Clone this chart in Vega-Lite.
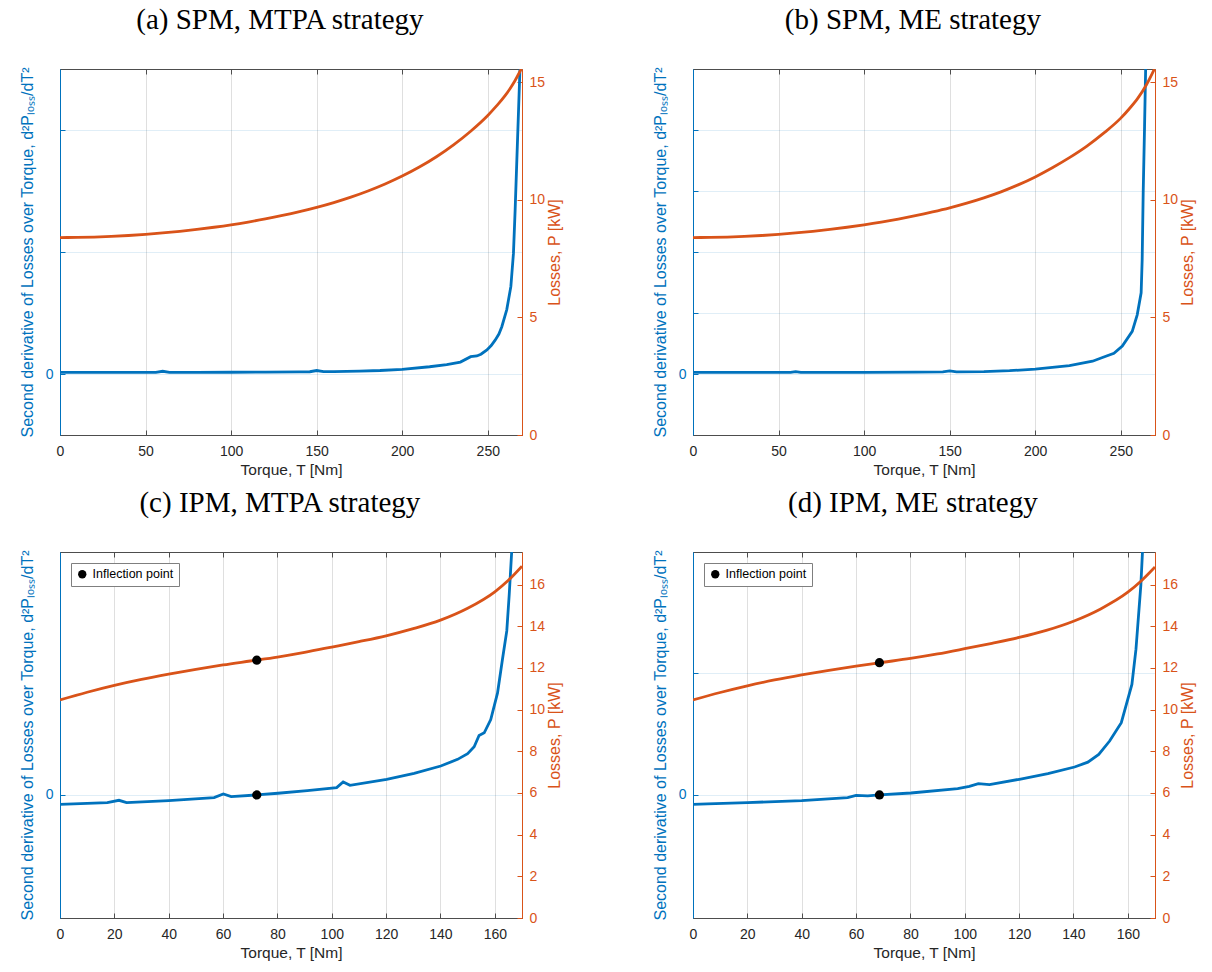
{
  "$schema": "https://vega.github.io/schema/vega-lite/v6.json",
  "padding": {"left": 18, "top": 5, "right": 5, "bottom": 5},
  "background": "white",
  "datasets": {
    "a_d2": [
      {"T": 0, "v": 0.016}, {"T": 20, "v": 0.016}, {"T": 40, "v": 0.016}, {"T": 56, "v": 0.016},
      {"T": 60, "v": 0.025}, {"T": 64, "v": 0.016}, {"T": 80, "v": 0.016}, {"T": 100, "v": 0.017},
      {"T": 120, "v": 0.018}, {"T": 140, "v": 0.02}, {"T": 146, "v": 0.021}, {"T": 150, "v": 0.031},
      {"T": 154, "v": 0.022}, {"T": 160, "v": 0.022}, {"T": 175, "v": 0.026}, {"T": 187, "v": 0.031},
      {"T": 200, "v": 0.041}, {"T": 216, "v": 0.062}, {"T": 226, "v": 0.08}, {"T": 234, "v": 0.1},
      {"T": 240, "v": 0.144}, {"T": 243.6, "v": 0.15}, {"T": 246, "v": 0.165}, {"T": 249.5, "v": 0.2},
      {"T": 252, "v": 0.235}, {"T": 254.3, "v": 0.28}, {"T": 256.5, "v": 0.33}, {"T": 258.2, "v": 0.39},
      {"T": 261.1, "v": 0.53}, {"T": 263.5, "v": 0.72}, {"T": 265, "v": 0.99}, {"T": 266, "v": 1.35},
      {"T": 267, "v": 1.76}, {"T": 268, "v": 2.17}, {"T": 269, "v": 2.58}
    ],
    "a_P": [
      {"T": 0, "P": 8.4}, {"T": 10, "P": 8.405}, {"T": 20, "P": 8.421}, {"T": 30, "P": 8.448},
      {"T": 40, "P": 8.486}, {"T": 50, "P": 8.535}, {"T": 60, "P": 8.595}, {"T": 70, "P": 8.665},
      {"T": 80, "P": 8.746}, {"T": 90, "P": 8.838}, {"T": 100, "P": 8.941}, {"T": 110, "P": 9.059},
      {"T": 120, "P": 9.191}, {"T": 130, "P": 9.338}, {"T": 140, "P": 9.501}, {"T": 150, "P": 9.681},
      {"T": 160, "P": 9.886}, {"T": 170, "P": 10.118}, {"T": 180, "P": 10.38}, {"T": 190, "P": 10.677},
      {"T": 200, "P": 11.014}, {"T": 210, "P": 11.399}, {"T": 220, "P": 11.839}, {"T": 230, "P": 12.344},
      {"T": 240, "P": 12.924}, {"T": 250, "P": 13.594}, {"T": 255, "P": 13.99}, {"T": 260, "P": 14.424},
      {"T": 265, "P": 14.96}, {"T": 270, "P": 15.64}
    ],
    "b_d2": [
      {"T": 0, "v": 0.026}, {"T": 20, "v": 0.026}, {"T": 40, "v": 0.026}, {"T": 57, "v": 0.026},
      {"T": 60, "v": 0.04}, {"T": 63, "v": 0.026}, {"T": 100, "v": 0.028}, {"T": 130, "v": 0.032},
      {"T": 146, "v": 0.034}, {"T": 150, "v": 0.05}, {"T": 154, "v": 0.036}, {"T": 170, "v": 0.04},
      {"T": 185, "v": 0.054}, {"T": 200, "v": 0.08}, {"T": 220, "v": 0.136}, {"T": 233.5, "v": 0.21},
      {"T": 239.3, "v": 0.27}, {"T": 246, "v": 0.34}, {"T": 250.9, "v": 0.46}, {"T": 256.7, "v": 0.7},
      {"T": 259.6, "v": 0.97}, {"T": 261.9, "v": 1.33}, {"T": 262.5, "v": 1.87}, {"T": 263.1, "v": 2.97},
      {"T": 263.9, "v": 4.06}, {"T": 264.6, "v": 5.1}
    ],
    "b_P": [
      {"T": 0, "P": 8.4}, {"T": 10, "P": 8.405}, {"T": 20, "P": 8.421}, {"T": 30, "P": 8.448},
      {"T": 40, "P": 8.486}, {"T": 50, "P": 8.535}, {"T": 60, "P": 8.595}, {"T": 70, "P": 8.665},
      {"T": 80, "P": 8.746}, {"T": 90, "P": 8.838}, {"T": 100, "P": 8.94}, {"T": 110, "P": 9.055},
      {"T": 120, "P": 9.185}, {"T": 130, "P": 9.33}, {"T": 140, "P": 9.49}, {"T": 150, "P": 9.665},
      {"T": 160, "P": 9.865}, {"T": 170, "P": 10.09}, {"T": 180, "P": 10.345}, {"T": 190, "P": 10.64},
      {"T": 200, "P": 10.98}, {"T": 210, "P": 11.37}, {"T": 220, "P": 11.8}, {"T": 230, "P": 12.28},
      {"T": 240, "P": 12.84}, {"T": 250, "P": 13.48}, {"T": 255, "P": 13.88}, {"T": 260, "P": 14.33},
      {"T": 265, "P": 14.9}, {"T": 270, "P": 15.62}
    ],
    "c_d2": [
      {"T": 0, "v": -0.077}, {"T": 10, "v": -0.07}, {"T": 17.4, "v": -0.063}, {"T": 21.7, "v": -0.044},
      {"T": 24.5, "v": -0.063}, {"T": 40, "v": -0.047}, {"T": 56.7, "v": -0.022}, {"T": 60.1, "v": 0.008},
      {"T": 63, "v": -0.014}, {"T": 72.4, "v": 0}, {"T": 80.2, "v": 0.014}, {"T": 91, "v": 0.036},
      {"T": 101.8, "v": 0.06}, {"T": 104.2, "v": 0.107}, {"T": 106.7, "v": 0.079}, {"T": 120.2, "v": 0.129},
      {"T": 130.3, "v": 0.178}, {"T": 140.1, "v": 0.238}, {"T": 146.3, "v": 0.293}, {"T": 150, "v": 0.34},
      {"T": 152.4, "v": 0.397}, {"T": 154.2, "v": 0.49}, {"T": 156.1, "v": 0.512}, {"T": 158.5, "v": 0.62},
      {"T": 161, "v": 0.84}, {"T": 162.8, "v": 1.115}, {"T": 164.4, "v": 1.35}, {"T": 165.3, "v": 1.65},
      {"T": 166.2, "v": 2.0}, {"T": 166.6, "v": 2.15}
    ],
    "c_P": [
      {"T": 0, "P": 10.46}, {"T": 10, "P": 10.83}, {"T": 20, "P": 11.16}, {"T": 30, "P": 11.445},
      {"T": 40, "P": 11.695}, {"T": 50, "P": 11.925}, {"T": 60, "P": 12.14}, {"T": 70, "P": 12.33},
      {"T": 80, "P": 12.52}, {"T": 90, "P": 12.745}, {"T": 100, "P": 13.0}, {"T": 110, "P": 13.26},
      {"T": 120, "P": 13.54}, {"T": 130, "P": 13.88}, {"T": 140, "P": 14.29}, {"T": 150, "P": 14.86},
      {"T": 160, "P": 15.65}, {"T": 165, "P": 16.2}, {"T": 170, "P": 16.88}
    ],
    "c_pt": [{"T": 72.4, "v": 0, "P": 12.37, "label": "Inflection point"}],
    "d_d2": [
      {"T": 0, "v": -0.077}, {"T": 5.3, "v": -0.074}, {"T": 20, "v": -0.063}, {"T": 40, "v": -0.047},
      {"T": 56.9, "v": -0.022}, {"T": 60, "v": -0.003}, {"T": 64.3, "v": -0.008}, {"T": 68.6, "v": 0},
      {"T": 80.2, "v": 0.016}, {"T": 97.4, "v": 0.052}, {"T": 101.7, "v": 0.071}, {"T": 105, "v": 0.093},
      {"T": 109.1, "v": 0.085}, {"T": 120.1, "v": 0.129}, {"T": 130.6, "v": 0.175}, {"T": 140.4, "v": 0.23},
      {"T": 145.3, "v": 0.27}, {"T": 149.3, "v": 0.334}, {"T": 153.3, "v": 0.444}, {"T": 157.6, "v": 0.595},
      {"T": 161.5, "v": 0.91}, {"T": 163, "v": 1.2}, {"T": 164.8, "v": 1.73}, {"T": 165.5, "v": 2.05}
    ],
    "d_P": [
      {"T": 0, "P": 10.46}, {"T": 10, "P": 10.82}, {"T": 20, "P": 11.14}, {"T": 30, "P": 11.42},
      {"T": 40, "P": 11.665}, {"T": 50, "P": 11.885}, {"T": 60, "P": 12.085}, {"T": 70, "P": 12.27},
      {"T": 80, "P": 12.455}, {"T": 90, "P": 12.67}, {"T": 100, "P": 12.92}, {"T": 110, "P": 13.18},
      {"T": 120, "P": 13.46}, {"T": 130, "P": 13.8}, {"T": 140, "P": 14.24}, {"T": 150, "P": 14.83},
      {"T": 160, "P": 15.63}, {"T": 165, "P": 16.18}, {"T": 170, "P": 16.84}
    ],
    "d_pt": [{"T": 68.6, "v": 0, "P": 12.25, "label": "Inflection point"}]
  },
  "columns": 2,
  "spacing": {"row": 10, "column": 87},
  "resolve": {"scale": {"color": "independent"}},
  "concat": [
    {
      "title": {"text": "(a) SPM, MTPA strategy"},
      "width": 462, "height": 366,
      "resolve": {"scale": {"y": "independent"}, "axis": {"x": "independent"}},
      "layer": [
        {
          "data": {"name": "a_d2"},
          "mark": {"type": "line", "color": "#0072BD", "strokeWidth": 2.8, "clip": true},
          "encoding": {
            "x": {"field": "T", "type": "quantitative", "scale": {"domain": [0, 270], "nice": false},
                  "axis": {"orient": "bottom", "values": [0, 50, 100, 150, 200, 250], "title": "Torque, T [Nm]"}},
            "y": {"field": "v", "type": "quantitative", "scale": {"domain": [-0.497, 2.5], "nice": false, "zero": false},
                  "axis": {"orient": "left", "values": [0, 1, 2], "labelExpr": "datum.value === 0 ? '0' : ''",
                           "title": "Second derivative of Losses over Torque, d²Pₗₒₛₛ/dT²", "domainColor": "#0072BD",
                           "tickColor": "#0072BD", "labelColor": "#0072BD", "titleColor": "#0072BD",
                           "grid": true, "gridColor": "#0072BD", "gridOpacity": 0.12}}
          }
        },
        {
          "data": {"name": "a_P"},
          "mark": {"type": "line", "color": "#D95319", "strokeWidth": 2.8, "clip": true, "interpolate": "monotone"},
          "encoding": {
            "x": {"field": "T", "type": "quantitative", "scale": {"domain": [0, 270], "nice": false},
                  "axis": {"orient": "top", "values": [0, 50, 100, 150, 200, 250], "labels": false, "title": null, "grid": false, "domain": false}},
            "y": {"field": "P", "type": "quantitative", "scale": {"domain": [0, 15.57], "nice": false},
                  "axis": {"orient": "right", "values": [0, 5, 10, 15], "title": "Losses, P [kW]", "domainColor": "#D95319",
                           "tickColor": "#D95319", "labelColor": "#D95319", "titleColor": "#D95319", "grid": false,
                           "titleAngle": 270, "titleBaseline": "top"}}
          }
        }
      ]
    },
    {
      "title": {"text": "(b) SPM, ME strategy"},
      "width": 462, "height": 366,
      "resolve": {"scale": {"y": "independent"}, "axis": {"x": "independent"}},
      "layer": [
        {
          "data": {"name": "b_d2"},
          "mark": {"type": "line", "color": "#0072BD", "strokeWidth": 2.8, "clip": true},
          "encoding": {
            "x": {"field": "T", "type": "quantitative", "scale": {"domain": [0, 270], "nice": false},
                  "axis": {"orient": "bottom", "values": [0, 50, 100, 150, 200, 250], "title": "Torque, T [Nm]"}},
            "y": {"field": "v", "type": "quantitative", "scale": {"domain": [-1, 5], "nice": false, "zero": false},
                  "axis": {"orient": "left", "values": [0, 1, 2, 3, 4], "labelExpr": "datum.value === 0 ? '0' : ''",
                           "title": "Second derivative of Losses over Torque, d²Pₗₒₛₛ/dT²", "domainColor": "#0072BD",
                           "tickColor": "#0072BD", "labelColor": "#0072BD", "titleColor": "#0072BD",
                           "grid": true, "gridColor": "#0072BD", "gridOpacity": 0.12}}
          }
        },
        {
          "data": {"name": "b_P"},
          "mark": {"type": "line", "color": "#D95319", "strokeWidth": 2.8, "clip": true, "interpolate": "monotone"},
          "encoding": {
            "x": {"field": "T", "type": "quantitative", "scale": {"domain": [0, 270], "nice": false},
                  "axis": {"orient": "top", "values": [0, 50, 100, 150, 200, 250], "labels": false, "title": null, "grid": false, "domain": false}},
            "y": {"field": "P", "type": "quantitative", "scale": {"domain": [0, 15.57], "nice": false},
                  "axis": {"orient": "right", "values": [0, 5, 10, 15], "title": "Losses, P [kW]", "domainColor": "#D95319",
                           "tickColor": "#D95319", "labelColor": "#D95319", "titleColor": "#D95319", "grid": false,
                           "titleAngle": 270, "titleBaseline": "top"}}
          }
        }
      ]
    },
    {
      "title": {"text": "(c) IPM, MTPA strategy"},
      "width": 462, "height": 366,
      "resolve": {"scale": {"y": "independent"}, "axis": {"x": "independent"}},
      "layer": [
        {
          "layer": [
            {
              "data": {"name": "c_d2"},
              "mark": {"type": "line", "color": "#0072BD", "strokeWidth": 2.8, "clip": true},
              "encoding": {
                "x": {"field": "T", "type": "quantitative", "scale": {"domain": [0, 170], "nice": false},
                      "axis": {"orient": "bottom", "values": [0, 20, 40, 60, 80, 100, 120, 140, 160], "title": "Torque, T [Nm]"}},
                "y": {"field": "v", "type": "quantitative", "scale": {"domain": [-1.013, 2.0], "nice": false, "zero": false},
                      "axis": {"orient": "left", "values": [0], "labelExpr": "datum.value === 0 ? '0' : ''",
                               "title": "Second derivative of Losses over Torque, d²Pₗₒₛₛ/dT²", "domainColor": "#0072BD",
                               "tickColor": "#0072BD", "labelColor": "#0072BD", "titleColor": "#0072BD",
                               "grid": true, "gridColor": "#0072BD", "gridOpacity": 0.12}}
              }
            },
            {
              "data": {"name": "c_pt"},
              "mark": {"type": "point", "filled": true, "size": 85, "opacity": 1},
              "encoding": {
                "x": {"field": "T", "type": "quantitative"},
                "y": {"field": "v", "type": "quantitative"},
                "color": {"field": "label", "type": "nominal", "scale": {"range": ["#000000"]},
                          "legend": {"orient": "top-left", "title": null}}
              }
            }
          ]
        },
        {
          "layer": [
            {
              "data": {"name": "c_P"},
              "mark": {"type": "line", "color": "#D95319", "strokeWidth": 2.8, "clip": true, "interpolate": "monotone"},
              "encoding": {
                "x": {"field": "T", "type": "quantitative", "scale": {"domain": [0, 170], "nice": false},
                      "axis": {"orient": "top", "values": [0, 20, 40, 60, 80, 100, 120, 140, 160], "labels": false, "title": null, "grid": false, "domain": false}},
                "y": {"field": "P", "type": "quantitative", "scale": {"domain": [0, 17.56], "nice": false},
                      "axis": {"orient": "right", "values": [0, 2, 4, 6, 8, 10, 12, 14, 16], "title": "Losses, P [kW]", "domainColor": "#D95319",
                               "tickColor": "#D95319", "labelColor": "#D95319", "titleColor": "#D95319", "grid": false,
                               "titleAngle": 270, "titleBaseline": "top"}}
              }
            },
            {
              "data": {"name": "c_pt"},
              "mark": {"type": "point", "filled": true, "size": 85, "opacity": 1, "color": "#000000"},
              "encoding": {
                "x": {"field": "T", "type": "quantitative"},
                "y": {"field": "P", "type": "quantitative"}
              }
            }
          ]
        }
      ]
    },
    {
      "title": {"text": "(d) IPM, ME strategy"},
      "width": 462, "height": 366,
      "resolve": {"scale": {"y": "independent"}, "axis": {"x": "independent"}},
      "layer": [
        {
          "layer": [
            {
              "data": {"name": "d_d2"},
              "mark": {"type": "line", "color": "#0072BD", "strokeWidth": 2.8, "clip": true},
              "encoding": {
                "x": {"field": "T", "type": "quantitative", "scale": {"domain": [0, 170], "nice": false},
                      "axis": {"orient": "bottom", "values": [0, 20, 40, 60, 80, 100, 120, 140, 160], "title": "Torque, T [Nm]"}},
                "y": {"field": "v", "type": "quantitative", "scale": {"domain": [-1.013, 2.0], "nice": false, "zero": false},
                      "axis": {"orient": "left", "values": [0, 1], "labelExpr": "datum.value === 0 ? '0' : ''",
                               "title": "Second derivative of Losses over Torque, d²Pₗₒₛₛ/dT²", "domainColor": "#0072BD",
                               "tickColor": "#0072BD", "labelColor": "#0072BD", "titleColor": "#0072BD",
                               "grid": true, "gridColor": "#0072BD", "gridOpacity": 0.12}}
              }
            },
            {
              "data": {"name": "d_pt"},
              "mark": {"type": "point", "filled": true, "size": 85, "opacity": 1},
              "encoding": {
                "x": {"field": "T", "type": "quantitative"},
                "y": {"field": "v", "type": "quantitative"},
                "color": {"field": "label", "type": "nominal", "scale": {"range": ["#000000"]},
                          "legend": {"orient": "top-left", "title": null}}
              }
            }
          ]
        },
        {
          "layer": [
            {
              "data": {"name": "d_P"},
              "mark": {"type": "line", "color": "#D95319", "strokeWidth": 2.8, "clip": true, "interpolate": "monotone"},
              "encoding": {
                "x": {"field": "T", "type": "quantitative", "scale": {"domain": [0, 170], "nice": false},
                      "axis": {"orient": "top", "values": [0, 20, 40, 60, 80, 100, 120, 140, 160], "labels": false, "title": null, "grid": false, "domain": false}},
                "y": {"field": "P", "type": "quantitative", "scale": {"domain": [0, 17.56], "nice": false},
                      "axis": {"orient": "right", "values": [0, 2, 4, 6, 8, 10, 12, 14, 16], "title": "Losses, P [kW]", "domainColor": "#D95319",
                               "tickColor": "#D95319", "labelColor": "#D95319", "titleColor": "#D95319", "grid": false,
                               "titleAngle": 270, "titleBaseline": "top"}}
              }
            },
            {
              "data": {"name": "d_pt"},
              "mark": {"type": "point", "filled": true, "size": 85, "opacity": 1, "color": "#000000"},
              "encoding": {
                "x": {"field": "T", "type": "quantitative"},
                "y": {"field": "P", "type": "quantitative"}
              }
            }
          ]
        }
      ]
    }
  ],
  "config": {
    "font": "Liberation Sans",
    "view": {"stroke": "#4d4d4d", "strokeWidth": 1},
    "title": {"font": "Liberation Serif", "fontSize": 29, "fontWeight": "normal", "color": "#000000",
              "anchor": "middle", "frame": "bounds", "baseline": "alphabetic", "offset": 32, "dx": -11},
    "axis": {
      "labelFont": "Liberation Sans", "labelFontSize": 14, "labelColor": "#262626",
      "titleFont": "Liberation Sans", "titleFontSize": 15.5, "titleFontWeight": "normal", "titleColor": "#262626",
      "domainColor": "#4d4d4d", "domainWidth": 1, "tickColor": "#4d4d4d", "tickSize": -5,
      "labelPadding": 12, "titlePadding": 4, "gridColor": "#262626", "gridOpacity": 0.15,
      "labelFlush": false, "labelOverlap": false
    },
    "axisX": {"labelPadding": 14, "grid": true, "format": "d"},
    "axisLeft": {"titlePadding": 10, "titleFontSize": 16},
    "axisRight": {"titlePadding": 2, "titleFontSize": 16},
    "legend": {
      "fillColor": "#ffffff", "strokeColor": "#7f7f7f", "padding": 5, "offset": 11, "cornerRadius": 0,
      "labelFont": "Liberation Sans", "labelFontSize": 12.5, "labelColor": "#000000",
      "symbolType": "circle", "symbolSize": 70, "symbolStrokeWidth": 0, "symbolFillColor": "#000000",
      "labelOffset": 4
    }
  }
}
